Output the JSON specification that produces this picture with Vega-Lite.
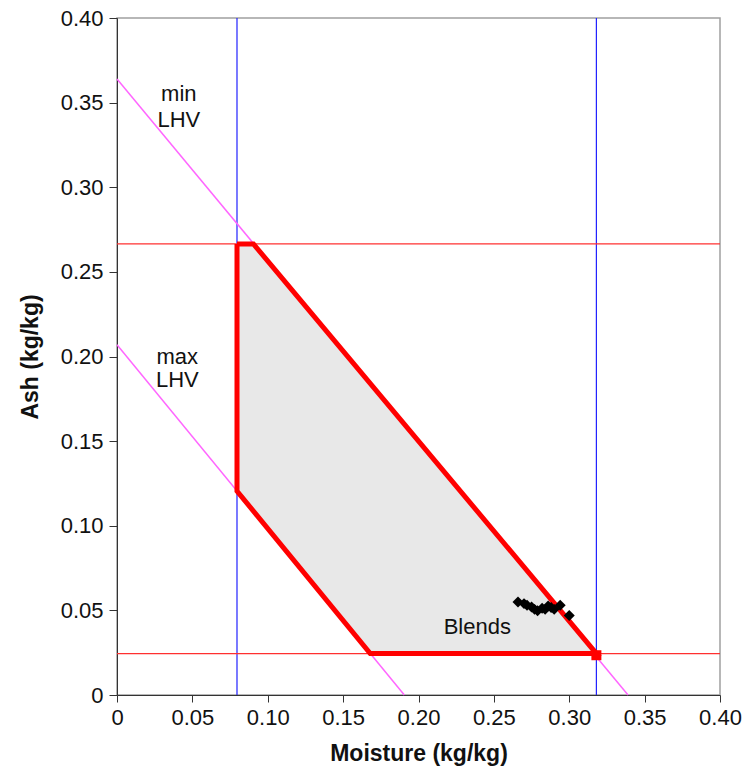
{
  "$schema": "https://vega.github.io/schema/vega-lite/v6.json",
  "width": 603,
  "height": 677,
  "autosize": {"type": "none"},
  "padding": {"left": 117, "top": 18, "right": 26, "bottom": 83},
  "background": "white",
  "config": {
    "font": "Liberation Sans",
    "view": {"stroke": "#a0a0a0", "strokeWidth": 1.5},
    "axis": {"grid": false, "domainColor": "#333", "tickColor": "#333", "labelColor": "#111", "titleColor": "#111", "labelFont": "Liberation Sans", "titleFont": "Liberation Sans"}
  },
  "datasets": {
    "poly": [
      {"o": 1, "x": 0.0796, "y": 0.2665},
      {"o": 2, "x": 0.0905, "y": 0.2665},
      {"o": 3, "x": 0.318, "y": 0.0245},
      {"o": 4, "x": 0.168, "y": 0.0245},
      {"o": 5, "x": 0.0796, "y": 0.1205},
      {"o": 6, "x": 0.0796, "y": 0.2665}
    ],
    "lhv": [
      {"line": "min", "x": 0, "y": 0.364},
      {"line": "min", "x": 0.339, "y": 0},
      {"line": "max", "x": 0, "y": 0.207},
      {"line": "max", "x": 0.1906, "y": 0}
    ],
    "vlines": [{"x": 0.0796, "y": 0, "y2": 0.4}, {"x": 0.318, "y": 0, "y2": 0.4}],
    "hlines": [{"y": 0.2665, "x": 0, "x2": 0.4}, {"y": 0.0245, "x": 0, "x2": 0.4}],
    "blends": [
      {"x": 0.266, "y": 0.055},
      {"x": 0.270, "y": 0.054},
      {"x": 0.272, "y": 0.053},
      {"x": 0.275, "y": 0.052},
      {"x": 0.277, "y": 0.0506},
      {"x": 0.279, "y": 0.0498},
      {"x": 0.282, "y": 0.0512},
      {"x": 0.284, "y": 0.0506},
      {"x": 0.286, "y": 0.0526},
      {"x": 0.288, "y": 0.0517},
      {"x": 0.290, "y": 0.0506},
      {"x": 0.294, "y": 0.053},
      {"x": 0.300, "y": 0.047}
    ],
    "labels": [
      {"x": 0.041, "y": 0.355, "t": "min"},
      {"x": 0.041, "y": 0.340, "t": "LHV"},
      {"x": 0.040, "y": 0.200, "t": "max"},
      {"x": 0.040, "y": 0.186, "t": "LHV"},
      {"x": 0.239, "y": 0.040, "t": "Blends"}
    ],
    "dot": [{"x": 0.318, "y": 0.0235}]
  },
  "layer": [
    {"data": {"name": "vlines"}, "mark": {"type": "rule", "color": "#2020ff", "strokeWidth": 1.2},
      "encoding": {
        "x": {"field": "x", "type": "quantitative", "scale": {"domain": [0, 0.4], "nice": false},
          "axis": {"title": "Moisture (kg/kg)", "values": [0, 0.05, 0.1, 0.15, 0.2, 0.25, 0.3, 0.35, 0.4], "labelExpr": "datum.value == 0 ? '0' : format(datum.value, '.2f')", "labelFontSize": 22, "titleFontSize": 23, "titleFontWeight": "bold", "tickSize": 7, "labelPadding": 5, "titlePadding": 14, "labelFlush": false}},
        "y": {"field": "y", "type": "quantitative", "scale": {"domain": [0, 0.4], "nice": false},
          "axis": {"title": "Ash (kg/kg)", "values": [0, 0.05, 0.1, 0.15, 0.2, 0.25, 0.3, 0.35, 0.4], "labelExpr": "datum.value == 0 ? '0' : format(datum.value, '.2f')", "labelFontSize": 22, "titleFontSize": 23, "titleFontWeight": "bold", "tickSize": 8, "labelPadding": 6, "titlePadding": 18, "labelFlush": false}},
        "y2": {"field": "y2"}}},
    {"data": {"name": "hlines"}, "mark": {"type": "rule", "color": "#ff3030", "strokeWidth": 1.2},
      "encoding": {"y": {"field": "y", "type": "quantitative"}, "x": {"field": "x", "type": "quantitative"}, "x2": {"field": "x2"}}},
    {"data": {"name": "lhv"}, "mark": {"type": "line", "color": "#ff66ff", "strokeWidth": 1.5},
      "encoding": {"x": {"field": "x", "type": "quantitative"}, "y": {"field": "y", "type": "quantitative"}, "detail": {"field": "line"}}},
    {"data": {"name": "poly"}, "mark": {"type": "line", "fill": "#e8e8e8", "stroke": "#ff0000", "strokeWidth": 5, "strokeJoin": "miter"},
      "encoding": {"x": {"field": "x", "type": "quantitative"}, "y": {"field": "y", "type": "quantitative"}, "order": {"field": "o"}}},
    {"data": {"name": "blends"}, "mark": {"type": "point", "shape": "diamond", "filled": true, "color": "#000", "size": 120, "opacity": 1},
      "encoding": {"x": {"field": "x", "type": "quantitative"}, "y": {"field": "y", "type": "quantitative"}}},
    {"data": {"name": "dot"}, "mark": {"type": "point", "shape": "square", "filled": true, "color": "#ff0000", "size": 100, "opacity": 1},
      "encoding": {"x": {"field": "x", "type": "quantitative"}, "y": {"field": "y", "type": "quantitative"}}},
    {"data": {"name": "labels"}, "mark": {"type": "text", "fontSize": 22, "color": "#111", "font": "Liberation Sans"},
      "encoding": {"x": {"field": "x", "type": "quantitative"}, "y": {"field": "y", "type": "quantitative"}, "text": {"field": "t"}}}
  ]
}
